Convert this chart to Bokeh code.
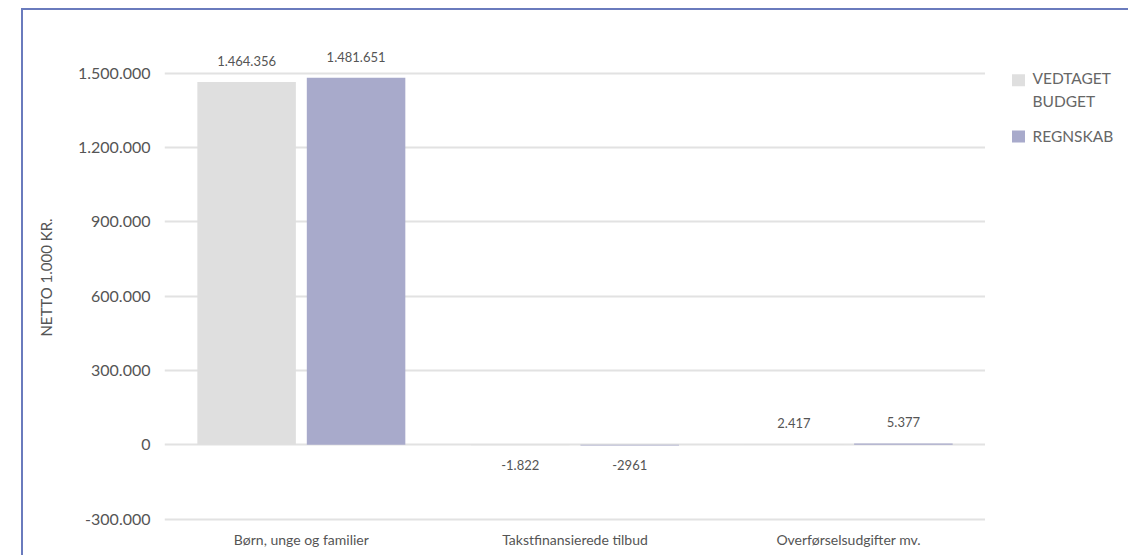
from bokeh.plotting import figure
from bokeh.models import ColumnDataSource, FactorRange, FixedTicker, CustomJSTickFormatter, Range1d
from bokeh.layouts import row
from bokeh.transform import dodge
from bokeh.embed import file_html
from bokeh.resources import INLINE
from bokeh.core.properties import value

categories = ["Børn, unge og familier", "Takstfinansierede tilbud", "Overførselsudgifter mv."]
budget = [1464356, -1822, 2417]
regnskab = [1481651, -2961, 5377]
budget_labels = ["1.464.356", "-1.822", "2.417"]
regnskab_labels = ["1.481.651", "-2961", "5.377"]
series_names = ["VEDTAGET\nBUDGET", "REGNSKAB"]
y_ticks = [-300000, 0, 300000, 600000, 900000, 1200000, 1500000]

FONT = "Lato"
GRAY = "#dfdfdf"
PURPLE = "#a8aacb"
TXT = "#555555"
H = 545

def offsets(vals):
    return [-16 if v >= 0 else 15 for v in vals]

def baselines(vals):
    return ["bottom" if v >= 0 else "top" for v in vals]

src = ColumnDataSource(dict(
    cat=categories, budget=budget, regnskab=regnskab,
    blab=budget_labels, rlab=regnskab_labels,
    boff=offsets(budget), roff=offsets(regnskab),
    bbase=baselines(budget), rbase=baselines(regnskab),
))

p = figure(x_range=FactorRange(factors=categories, range_padding=0),
           y_range=(-330000, 1680000),
           frame_width=821, frame_height=498,
           output_backend="svg", toolbar_location=None,
           min_border_left=141, min_border_right=0,
           min_border_top=18, min_border_bottom=0)

r1 = p.vbar(x=dodge("cat", -0.2, range=p.x_range), top="budget", width=0.36,
            source=src, fill_color=GRAY, line_color=None)
r2 = p.vbar(x=dodge("cat", 0.2, range=p.x_range), top="regnskab", width=0.36,
            source=src, fill_color=PURPLE, line_color=None)

p.text(x=dodge("cat", -0.2, range=p.x_range), y="budget", text="blab", y_offset="boff",
       text_baseline="bbase", text_align="center", source=src,
       text_font=value(FONT), text_font_size="13px", text_color=TXT)
p.text(x=dodge("cat", 0.2, range=p.x_range), y="regnskab", text="rlab", y_offset="roff",
       text_baseline="rbase", text_align="center", source=src,
       text_font=value(FONT), text_font_size="13px", text_color=TXT)

p.outline_line_color = None
p.xgrid.grid_line_color = None
p.ygrid.grid_line_color = "#e2e2e2"
p.ygrid.grid_line_width = 2

p.yaxis.ticker = FixedTicker(ticks=y_ticks)
p.yaxis.formatter = CustomJSTickFormatter(code="""
return Math.round(tick).toString().replace(/\\B(?=(\\d{3})+(?!\\d))/g, ".");
""")
for ax in [p.xaxis[0], p.yaxis[0]]:
    ax.axis_line_color = None
    ax.major_tick_line_color = None
    ax.minor_tick_line_color = None
    ax.major_label_text_color = TXT
    ax.major_label_text_font = FONT
p.yaxis.major_label_text_font_size = "16px"
p.yaxis.major_label_standoff = 8
p.yaxis.axis_label = "NETTO 1.000 KR."
p.yaxis.axis_label_text_font = FONT
p.yaxis.axis_label_text_font_style = "normal"
p.yaxis.axis_label_text_font_size = "15px"
p.yaxis.axis_label_text_color = TXT
p.yaxis.axis_label_standoff = 20
p.xaxis.major_label_text_font_size = "14px"
p.xaxis.major_label_standoff = -2

# legend panel
lp = figure(width=143, height=H, x_range=Range1d(0, 143), y_range=Range1d(H, 0),
            output_backend="svg", toolbar_location=None,
            min_border_left=0, min_border_right=0, min_border_top=0, min_border_bottom=0)
lp.axis.visible = False
lp.grid.visible = False
lp.outline_line_color = None
leg_src = ColumnDataSource(dict(
    name=series_names, color=[GRAY, PURPLE],
    gx=[33, 33], gy=[56, 117], tx=[47, 47], ty=[44, 107],
))
lp.rect(x="gx", y="gy", width=13, height=13, fill_color="color", line_color=None, source=leg_src)
lp.text(x="tx", y="ty", text="name", source=leg_src, text_baseline="top", text_align="left",
        text_font=value(FONT), text_font_size="15.5px", text_color="#666666", text_line_height=1.3)

layout = row(p, lp)
layout.styles = {"border-left": "2px solid #6a7bbd", "border-top": "2px solid #6a7bbd"}
layout.margin = (8, 0, 0, 21)

open("out.html", "w").write(file_html(layout, INLINE))
